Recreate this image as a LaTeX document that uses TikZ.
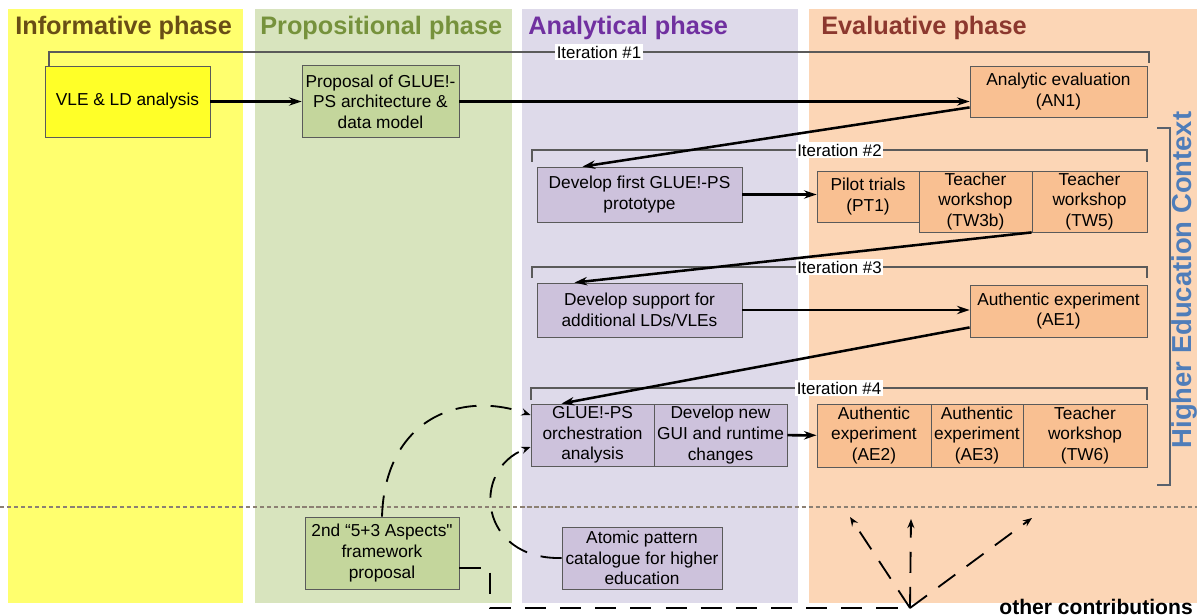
\documentclass[tikz,border=0pt]{standalone}
\usepackage{fontspec}
\setmainfont{Liberation Sans}[Ligatures=TeXOff]
\usetikzlibrary{arrows.meta}
\usetikzlibrary{calc}
% column backgrounds and box fills
\definecolor{infoback}{RGB}{255,255,110}
\definecolor{infobox}{RGB}{255,255,40}
\definecolor{propback}{RGB}{216,228,190}
\definecolor{propbox}{RGB}{196,214,156}
\definecolor{anaback}{RGB}{222,218,234}
\definecolor{anabox}{RGB}{205,194,220}
\definecolor{evalback}{RGB}{252,214,182}
\definecolor{evalbox}{RGB}{249,192,146}
% titles and lines
\definecolor{infotitle}{RGB}{105,78,22}
\definecolor{proptitle}{RGB}{118,146,60}
\definecolor{anatitle}{RGB}{112,48,160}
\definecolor{evaltitle}{RGB}{140,56,46}
\definecolor{ctxblue}{RGB}{79,125,185}
\definecolor{boxline}{RGB}{90,90,90}
\definecolor{sepgray}{RGB}{140,128,115}

\begin{document}
\begin{tikzpicture}[x=0.025cm, y=-0.025cm,
    phase/.style={anchor=base west, inner sep=0pt, font=\fontsize{18}{20}\selectfont\bfseries},
    box/.style={draw=boxline, line width=0.6pt, align=center, inner sep=1pt, font=\fontsize{12.3}{14.7}\selectfont},
    iter/.style={fill=white, inner sep=1pt, font=\fontsize{12}{14}\selectfont},
    bracket/.style={draw=boxline, line width=0.8pt},
    flow/.style={line width=1.8pt, -{Stealth[length=9pt,width=6pt]}},
    contrib/.style={line width=1.3pt, dash pattern=on 15pt off 10pt},
    contribtip/.style={contrib, -{Stealth[length=6.5pt,width=5pt]}}]

    \useasboundingbox (0,0) rectangle (1197,616);

    % the four phases
    \fill[infoback] (8,9) rectangle (243,603);
    \fill[propback] (255,9) rectangle (512,603);
    \fill[anaback] (522,9) rectangle (798,603);
    \fill[evalback] (809,9) rectangle (1197,603);

    \node[phase, infotitle] (tinfo) at (15,35) {Informative phase};
    \node[phase, proptitle] (tprop) at (260,35) {Propositional phase};
    \node[phase, anatitle] (tana) at (528,35) {Analytical phase};
    \node[phase, evaltitle] (teval) at (821,35) {Evaluative phase};

    \draw[sepgray, line width=0.8pt, dash pattern=on 3pt off 2pt] (0,507) -- (1197,507);

    % iterations
    \draw[bracket] (49,66) -- (49,52) -- node[iter] (it1) {Iteration \#1} (1149,52) -- (1149,63);
    \draw[bracket] (532,162) -- (532,150) -- node[iter] (it2) {Iteration \#2} (1147,150) -- (1147,162);
    \draw[bracket] (532,278) -- (532,267) -- node[iter] (it3) {Iteration \#3} (1147,267) -- (1147,278);
    \draw[bracket] (531,400) -- (531,388) -- node[iter] (it4) {Iteration \#4} (1147,388) -- (1147,400);

    \draw[draw=boxline!80!ctxblue, line width=1pt] (1157,128) -- (1170,128) -- (1170,485) -- (1157,485);
    \node[rotate=90, ctxblue, font=\fontsize{19.5}{21}\selectfont\bfseries] (ctx) at (1184,280) {Higher Education Context};

    % iteration 1
    \node[box, fill=infobox, minimum width=4.125cm, minimum height=1.775cm] (vle) at (127.5,101.5) {VLE \& LD analysis};
    \node[box, fill=propbox, minimum width=3.925cm, minimum height=1.8cm] (prop) at (380.5,101.5) {Proposal of GLUE!-\\PS architecture \&\\data model};
    \node[box, fill=evalbox, minimum width=4.425cm, minimum height=1.275cm] (an1) at (1058.5,91.5) {Analytic evaluation\\(AN1)};

    % iteration 2
    \node[box, fill=anabox, minimum width=5.125cm, minimum height=1.375cm] (dev1) at (639.5,194.5) {Develop first GLUE!-PS\\prototype};
    \node[box, fill=evalbox, minimum width=2.55cm, minimum height=1.275cm] (pt1) at (868,196.5) {Pilot trials\\(PT1)};
    \node[box, fill=evalbox, minimum width=2.825cm, minimum height=1.525cm] (tw3b) at (975.5,201.5) {Teacher\\workshop\\(TW3b)};
    \node[box, fill=evalbox, minimum width=2.875cm, minimum height=1.525cm] (tw5) at (1089.5,201.5) {Teacher\\workshop\\(TW5)};

    % iteration 3
    \node[box, fill=anabox, minimum width=5.125cm, minimum height=1.35cm] (dev2) at (639.5,310) {Develop support for\\additional LDs/VLEs};
    \node[box, fill=evalbox, minimum width=4.425cm, minimum height=1.3cm] (ae1) at (1058.5,311) {Authentic experiment\\(AE1)};

    % iteration 4
    \node[box, fill=anabox, minimum width=3.075cm, minimum height=1.55cm] (orch) at (592.5,435) {GLUE!-PS\\orchestration\\analysis};
    \node[box, fill=anabox, minimum width=3.325cm, minimum height=1.55cm] (gui) at (720.5,435) {Develop new\\GUI and runtime\\changes};
    \node[box, fill=evalbox, minimum width=2.85cm, minimum height=1.575cm] (ae2) at (874,435.5) {Authentic\\experiment\\(AE2)};
    \node[box, fill=evalbox, minimum width=2.3cm, minimum height=1.575cm] (ae3) at (977,435.5) {Authentic\\experiment\\(AE3)};
    \node[box, fill=evalbox, minimum width=3.1cm, minimum height=1.575cm] (tw6) at (1085,435.5) {Teacher\\workshop\\(TW6)};

    % other contributions
    \node[box, fill=propbox, minimum width=3.85cm, minimum height=1.8cm] (asp) at (382,553) {2nd “5+3 Aspects"\\framework\\proposal};
    \node[box, fill=anabox, minimum width=4cm, minimum height=1.55cm] (atom) at (642,558) {Atomic pattern\\catalogue for higher\\education};
    \node[anchor=base east, inner sep=0pt, font=\fontsize{15}{17}\selectfont\bfseries] (other) at (1193,614) {other contributions};

    \draw[flow] (vle) -- (prop);
    \draw[flow] (prop) -- (prop -| an1.west);
    \draw[flow] ($(an1.south west)+(0,-10)$) -- ($(dev1.north west)+(46,0)$);
    \draw[flow] (dev1) -- (dev1 -| pt1.west);
    \draw[flow] (tw5.south west) -- ($(dev2.north west)+(38,0)$);
    \draw[flow] (dev2) -- (dev2 -| ae1.west);
    \draw[flow] ($(ae1.south west)+(0,-10)$) -- ($(orch.north west)+(31,0)$);
    \draw[flow] (gui) -- (ae2);

    \draw[contribtip] (asp.north) .. controls +(3,-97) and +(-71,-25) .. ($(orch.west)+(0,-20)$);
    \draw[contribtip] (atom.west) .. controls +(-82,2) and +(-61,23) .. ($(orch.west)+(0,12)$);

    \coordinate (bend) at (490,608);
    \coordinate (hub) at (910,608);
    \coordinate (upl) at (850,517);
    \coordinate (upm) at (911,519);
    \coordinate (upr) at (1032,518);
    \draw[contrib] ($(asp.east)+(0,15)$) -| (bend) -- (hub);
    \draw[contribtip] (hub) -- (upl);
    \draw[contribtip] (hub) -- (upm);
    \draw[contribtip] (hub) -- (upr);

\end{tikzpicture}
\end{document}
